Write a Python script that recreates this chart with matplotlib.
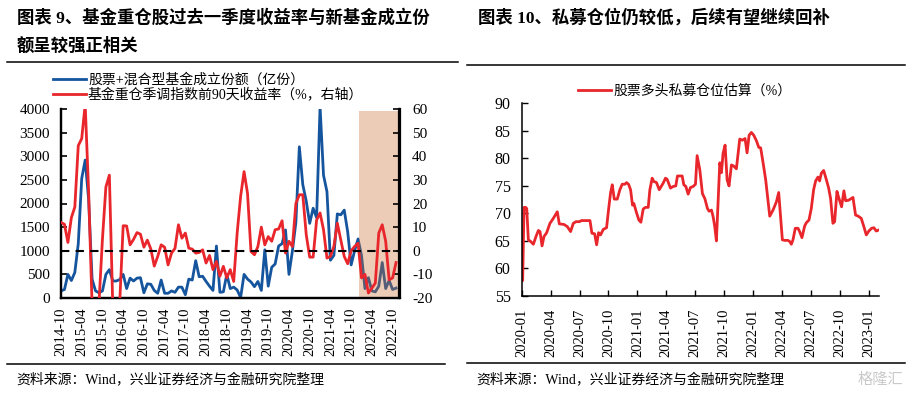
import matplotlib
matplotlib.use("Agg")
import matplotlib.pyplot as plt
from matplotlib.lines import Line2D

plt.rcParams['font.family'] = ['Liberation Serif', 'Noto Sans CJK SC', 'DejaVu Sans']
plt.rcParams['axes.unicode_minus'] = False

# ---------------- data: left chart (monthly, from 2014-10) ----------------
left_tick_labels = ["2014-10", "2015-04", "2015-10", "2016-04", "2016-10", "2017-04",
                    "2017-10", "2018-04", "2018-10", "2019-04", "2019-10", "2020-04",
                    "2020-10", "2021-04", "2021-10", "2022-04", "2022-10"]
fund_issuance = [150, 180, 500, 370, 540, 1150, 2530, 2920, 2080, 400,
                 150, 110, 150, 500, 600, 360, 360, 390, 500, 200,
                 420, 360, 420, 430, 110, 300, 290, 160, 100, 380,
                 100, 100, 150, 120, 230, 230, 70, 400, 380, 790,
                 450, 460, 350, 250, 160, 1100, 120, 130, 500, 200,
                 230, 170, 10, 500, 400, 340, 240, 350, 160, 1020,
                 250, 650, 720, 1100, 1150, 1440, 500, 1000, 1600, 3200,
                 2400, 2050, 1580, 1900, 1700, 4050, 2600, 2250, 800, 900,
                 1780, 1760, 1860, 1400, 700, 1000, 1250, 900, 200, 430,
                 150, 130, 250, 750, 200, 370, 180, 210]
index_return = [12, 11.2, 3.5, 14, 18.5, 44.5, 47.5, 62, 25, -23,
                -24, -22, 5, 27, 32, -24, -24, -22, 10.6, 10.5,
                2.5, 4.8, 7.7, 7, 1.5, 4.5, 0.8, -6.5, -2.4, 2.5,
                1.5, -6, -1, 1, 11, 5.3, 7.5, 1.1, 0.7, -1,
                -0.7, 0.4, -5.2, -2, -8, -4.5, -10.8, -6.6, -11.5, -8,
                -13, 7.5, 23, 33.5, 24.3, -0.3, -1.7, 1.8, 10, 2.5,
                6, 4, 8.9, 9.2, 12.7, -1, 4, 1.8, 20, 23.7,
                23.7, 6.8, -2.7, -2.7, 13, 16, 8.9, -3.1, -2.4, 1.8,
                11.7, 4.6, -2.4, -5.5, 0, 1.8, 3.2, -11.5, -10, -17.9,
                -15.8, -13.7, 7.5, 11, 4, -12.3, -11.5, -5]
shade_start, shade_end = 86.3, 98.0   # months after 2014-10

# ---------------- data: right chart (months after 2020-01) ----------------
right_tick_labels = ["2020-01", "2020-04", "2020-07", "2020-10", "2021-01", "2021-04",
                     "2021-07", "2021-10", "2022-01", "2022-04", "2022-07", "2022-10",
                     "2023-01"]
pe_months = [0.00, 0.10, 0.24, 0.41, 0.52, 0.69, 0.93, 1.21, 1.48, 1.73,
             1.90, 2.11, 2.31, 2.59, 2.93, 3.28, 3.69, 3.90, 4.38, 4.73,
             5.07, 5.35, 5.63, 5.97, 6.21, 7.08, 7.28, 7.56, 7.77, 7.97,
             8.18, 8.46, 8.80, 9.04, 9.22, 9.39, 9.60, 9.91, 10.18, 10.42,
             10.70, 10.87, 11.08, 11.29, 11.49, 11.63, 11.91, 12.15, 12.36, 12.60,
             12.84, 13.12, 13.29, 13.53, 13.70, 13.98, 14.26, 14.50, 14.67, 14.91,
             15.08, 15.43, 15.71, 15.98, 16.15, 16.64, 16.81, 17.02, 17.26, 17.50,
             17.78, 18.02, 18.19, 18.47, 18.74, 18.99, 19.26, 19.43, 19.68, 19.85,
             20.02, 20.19, 20.54, 20.71, 20.88, 21.09, 21.30, 21.50, 21.75, 21.99,
             22.26, 22.61, 22.89, 23.16, 23.37, 23.58, 23.82, 24.06, 24.34, 24.58,
             24.78, 25.03, 25.30, 25.54, 25.72, 26.06, 26.41, 26.65, 27.03, 27.27,
             27.61, 27.79, 27.96, 28.13, 28.37, 28.65, 28.82, 29.06, 29.34, 29.51,
             29.79, 30.03, 30.27, 30.48, 30.72, 30.89, 31.07, 31.31, 31.58, 31.83,
             32.03, 32.27, 32.45, 32.69, 32.90, 33.17, 33.41, 33.59, 33.90, 34.17,
             34.35, 34.62, 34.90, 35.21, 35.48, 35.73, 36.00, 36.28, 36.52, 36.76,
             37.04]
pe_position = [57.8, 57.8, 71.1, 71.1, 70.9, 65.2, 64.9, 64.4, 65.8, 66.9,
               66.7, 64.1, 65.8, 66.5, 68.2, 69.1, 70.3, 68.1, 68.0, 67.6,
               66.7, 68.2, 68.5, 68.5, 68.7, 68.7, 66.4, 66.3, 64.3, 66.5,
               66.1, 67.1, 67.4, 71.2, 73.8, 75.2, 72.6, 72.6, 74.3, 75.3,
               75.3, 75.6, 75.3, 74.3, 71.5, 71.8, 70.1, 68.8, 68.4, 70.8,
               71.1, 71.1, 74.3, 76.4, 75.8, 75.6, 74.3, 75.0, 75.5, 76.4,
               76.2, 74.6, 74.9, 75.0, 76.8, 76.8, 75.2, 74.9, 73.5, 74.7,
               74.9, 75.3, 80.5, 77.9, 73.6, 72.7, 70.9, 70.4, 70.6, 69.4,
               67.6, 65.0, 79.2, 77.4, 80.9, 82.4, 76.1, 75.0, 78.8, 78.6,
               78.1, 83.5, 83.3, 83.6, 81.0, 84.2, 84.7, 84.2, 83.2, 82.0,
               81.9, 79.2, 76.1, 72.4, 69.5, 70.6, 72.1, 73.8, 65.2, 65.1,
               65.1, 64.9, 64.4, 65.2, 67.3, 67.3, 66.7, 65.6, 67.7, 68.3,
               68.8, 70.9, 74.3, 75.9, 76.6, 75.9, 77.3, 77.8, 76.2, 74.6,
               72.7, 68.2, 68.5, 74.0, 72.7, 71.2, 74.1, 72.3, 72.4, 72.7,
               72.9, 69.7, 69.5, 69.1, 67.6, 66.1, 66.8, 67.3, 67.4, 66.8,
               67.0]

BLUE = '#15559e'
RED = '#e8262b'
CJK = ['Liberation Serif', 'Noto Sans CJK SC']

fig = plt.figure(figsize=(9.13, 3.94), dpi=100)
W, H = 913.0, 394.0

def fx(px):
    return px / W

def fy(py):
    return 1 - py / H

# ---------------- left chart ----------------
axL = fig.add_axes([fx(61), fy(298), fx(399.5) - fx(61), fy(109) - fy(298)])
months = list(range(len(fund_issuance)))
lb, = axL.plot(months, fund_issuance, color=BLUE, lw=2.0, zorder=2)
axL.axvspan(shade_start, shade_end, ymin=0, ymax=0.99, color='#c96d31', alpha=0.35,
            lw=0, zorder=3)
axL.set_xlim(0, 98)
axL.set_ylim(0, 4000)
axL.set_yticks(range(0, 4001, 500))
axL.set_xticks(range(0, 97, 6))
axL.set_xticklabels(left_tick_labels, rotation=90, fontsize=10.5)
axL.tick_params(axis='y', direction='in', length=4, width=1.2, labelsize=11, pad=8)
axL.tick_params(axis='x', length=0, pad=7)
axL.spines['top'].set_visible(False)
for s in ['left', 'bottom', 'right']:
    axL.spines[s].set_linewidth(1.6)

axR = axL.twinx()
lr, = axR.plot(months, index_return, color=RED, lw=2.0, zorder=3)
axR.axhline(0, color='black', lw=1.5, ls=(0, (4, 3)), zorder=4)
axR.set_ylim(-20, 60)
axR.set_yticks(range(-20, 61, 10))
axR.tick_params(axis='y', direction='in', length=4, width=1.2, labelsize=11, pad=9)
axR.spines['top'].set_visible(False)
for s in ['left', 'bottom', 'right']:
    axR.spines[s].set_linewidth(1.6)

fig.legend([Line2D([], [], color=BLUE, lw=2), Line2D([], [], color=RED, lw=2)],
           ["股票+混合型基金成立份额（亿份）", "基金重仓季调指数前90天收益率（%，右轴）"],
           loc='upper left', bbox_to_anchor=(fx(47), fy(68)), frameon=False,
           prop={'family': CJK, 'size': 10}, handlelength=2.4, handletextpad=0.15,
           labelspacing=0.05, borderaxespad=0)

# ---------------- right chart ----------------
ax2 = fig.add_axes([fx(521.7), fy(296), fx(879) - fx(521.7), fy(103.3) - fy(296)])
lp, = ax2.plot(pe_months, pe_position, color=RED, lw=2.0)
ax2.set_xlim(0, 37.05)
ax2.set_ylim(55, 90)
ax2.set_yticks(range(55, 91, 5))
ax2.set_xticks(range(0, 37, 3))
ax2.set_xticklabels(right_tick_labels, rotation=90, fontsize=10.5)
ax2.tick_params(axis='y', direction='in', length=4, width=1, labelsize=11.5, pad=8)
ax2.tick_params(axis='x', direction='in', length=4, width=1, pad=9)
for s in ['top', 'right']:
    ax2.spines[s].set_visible(False)
for s in ['left', 'bottom']:
    ax2.spines[s].set_linewidth(1.1)
fig.legend([Line2D([], [], color=RED, lw=2)], ["股票多头私募仓位估算（%）"],
           loc='upper left', bbox_to_anchor=(fx(572), fy(79)), frameon=False,
           prop={'family': CJK, 'size': 10}, handlelength=2.4, handletextpad=0.15,
           borderaxespad=0)

# ---------------- titles, rules, sources ----------------
tkw = dict(fontsize=12.5, fontweight='bold', family=CJK, va='center', ha='left')
fig.text(fx(17), fy(18), "图表 9、基金重仓股过去一季度收益率与新基金成立份", **tkw)
fig.text(fx(17), fy(46), "额呈较强正相关", **tkw)
fig.text(fx(478), fy(18), "图表 10、私募仓位仍较低，后续有望继续回补", **tkw)

for (x0, x1, y) in [(7, 458, 62), (467, 905, 65), (7, 445, 364), (467, 905, 363)]:
    fig.add_artist(Line2D([fx(x0), fx(x1)], [fy(y), fy(y)], color='black', lw=1.1,
                          transform=fig.transFigure))

skw = dict(fontsize=10, family=CJK, va='center', ha='left')
fig.text(fx(16), fy(380), "资料来源：Wind，兴业证券经济与金融研究院整理", **skw)
fig.text(fx(476), fy(380), "资料来源：Wind，兴业证券经济与金融研究院整理", **skw)
fig.text(fx(903), fy(380), "格隆汇", fontsize=11, family=CJK, color='#c9c9c9',
         va='center', ha='right')

fig.savefig("out.png", dpi=100)
